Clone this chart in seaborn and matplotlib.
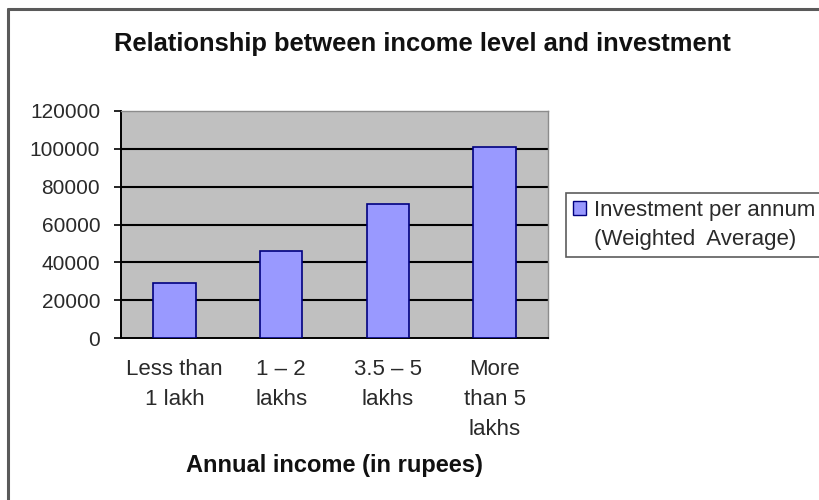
import matplotlib
matplotlib.use("Agg")
import matplotlib.pyplot as plt
from matplotlib.lines import Line2D
from matplotlib.patches import Patch
import seaborn as sns
import pandas as pd

# Income brackets and average annual investment per bracket
categories = ["Less than\n1 lakh", "1 \u2013 2\nlakhs", "3.5 \u2013 5\nlakhs", "More\nthan 5\nlakhs"]
investment = [29000, 45800, 70800, 101000]
y_ticks = [0, 20000, 40000, 60000, 80000, 100000, 120000]

title_text = "Relationship between income level and investment"
x_label = "Annual income (in rupees)"
legend_lines = ["Investment per annum", "(Weighted  Average)"]

sns.set_theme(style="white")
plt.rcParams["font.family"] = ["Liberation Sans", "DejaVu Sans"]

df = pd.DataFrame({"income": categories, "investment": investment})

fig = plt.figure(figsize=(8.2, 5.0), dpi=100)
ax = fig.add_axes([121 / 820, 162 / 500, 427 / 820, 227 / 500])
ax.set_facecolor("#C0C0C0")

sns.barplot(data=df, x="income", y="investment", ax=ax, width=0.4,
            color="#9999FF", saturation=1, edgecolor="#000080", linewidth=1.2,
            zorder=3)

ax.set_ylim(0, 120000)
ax.set_xlim(-0.5, len(categories) - 0.5)
ax.set_yticks(y_ticks)
ax.set_yticklabels([str(v) for v in y_ticks])
for v in y_ticks[1:-1]:
    ax.axhline(v, color="black", linewidth=1.5, zorder=1)

# category boundary ticks on the x axis
ax.set_xticks([i - 0.5 for i in range(len(categories) + 1)], minor=True)
ax.set_xticks(range(len(categories)))
ax.set_xticklabels(categories, linespacing=1.58, fontsize=16, color="#2a2a2a")
ax.tick_params(axis="x", which="major", length=0, pad=15)
ax.tick_params(axis="x", which="minor", length=5, width=1.2, color="black", direction="out")
ax.tick_params(axis="y", length=5, width=1.2, color="black", direction="out",
               labelsize=15, labelcolor="#2a2a2a", pad=10)
ax.tick_params(axis="both", bottom=True, left=True)
ax.xaxis.set_tick_params(which="major", bottom=False)

for side in ["top", "right"]:
    ax.spines[side].set_color("#8C8C8C")
    ax.spines[side].set_linewidth(1.0)
for side in ["left", "bottom"]:
    ax.spines[side].set_color("black")
    ax.spines[side].set_linewidth(1.4)
    ax.spines[side].set_visible(True)

ax.set_xlabel(x_label, fontsize=17, fontweight="bold", color="#111111", labelpad=10)
ax.set_ylabel("")

fig.text(422 / 820, 1 - 44 / 500, title_text, ha="center", va="center",
         fontsize=18.4, fontweight="bold", color="#111111")

# legend: swatch on the first line, continuation text on the second
handles = [Patch(facecolor="#9999FF", edgecolor="#000080", linewidth=1.0),
           Patch(facecolor="none", edgecolor="none")]
leg = fig.legend(handles, legend_lines, loc="upper left",
                 bbox_to_anchor=(566 / 820, 1 - 193 / 500),
                 frameon=True, fancybox=False, fontsize=16,
                 handlelength=0.6, handleheight=0.6, handletextpad=0.35,
                 borderpad=0.3, borderaxespad=0, labelspacing=0.38)
leg.get_frame().set_edgecolor("#333333")
leg.get_frame().set_linewidth(1.2)
for t in leg.get_texts():
    t.set_color("#2a2a2a")

# outer chart border (left and top edges)
fig.add_artist(Line2D([8 / 820, 8 / 820], [0, 1 - 9 / 500], transform=fig.transFigure,
                      color="#5a5a5a", linewidth=2.2))
fig.add_artist(Line2D([8 / 820, 1], [1 - 9 / 500, 1 - 9 / 500], transform=fig.transFigure,
                      color="#5a5a5a", linewidth=2.2))

fig.savefig("out.png", dpi=100, facecolor="white")
